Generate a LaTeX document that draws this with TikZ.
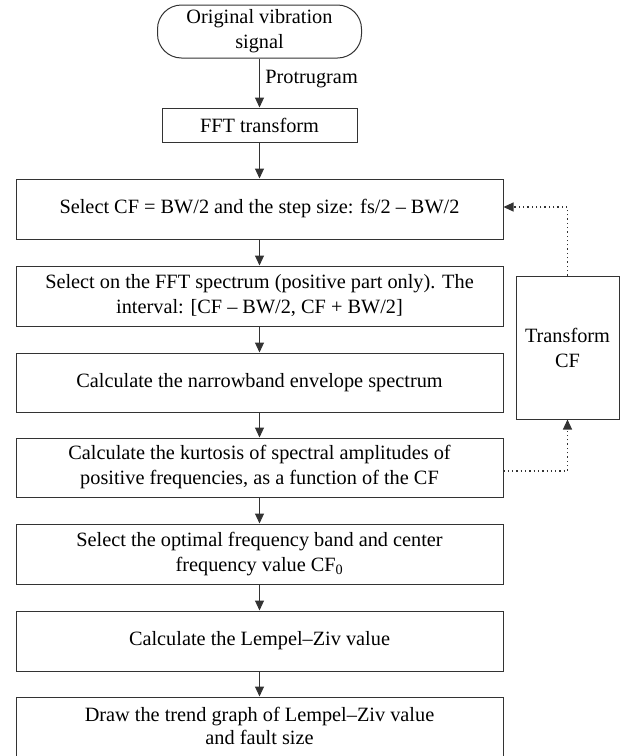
\documentclass[tikz,border=0pt]{standalone}
\usepackage{fontspec}
\setmainfont{Liberation Serif}
\usepackage{tikz}
\usetikzlibrary{arrows.meta,positioning}

\begin{document}
\begin{tikzpicture}[
    x=1pt, y=-1pt,
    font=\fontsize{20.3}{25}\selectfont,
    box/.style={rectangle, draw=black!80, line width=1pt, minimum width=487pt, minimum height=60pt, align=center, inner sep=2pt},
    arrow/.style={-{Triangle[length=10pt,width=9pt]}, line width=1pt, draw=black!80},
    loopline/.style={-{Triangle[length=10pt,width=9pt]}, line width=1.1pt, dash pattern=on 1.3pt off 3pt, draw=black!80}
]
    \useasboundingbox (0,0) rectangle (620,756);

    % Start and FFT
    \node[box, rounded corners=24pt, minimum width=204pt, minimum height=53pt] (signal) at (259.5,31.5) {Original vibration\\signal};
    \node[box, minimum width=195pt, minimum height=34pt] (fft) at (259.5,125) {FFT transform};

    % Main steps
    \node[box] (selcf) at (259.5,209) {\raisebox{4pt}{Select CF = BW/2 and the step size: fs/2 -- BW/2}};
    \node[box] (interval) at (259.5,296) {Select on the FFT spectrum (positive part only). The\\interval: [CF -- BW/2, CF + BW/2]};
    \node[box, minimum height=59pt] (envelope) at (259.5,382.5) {Calculate the narrowband envelope spectrum};
    \node[box, minimum height=59pt] (kurtosis) at (259.5,467.5) {Calculate the kurtosis of spectral amplitudes of\\positive frequencies, as a function of the CF};
    \node[box] (optimal) at (259.5,554) {Select the optimal frequency band and center\\frequency value CF\textsubscript{0}};
    \node[box] (lempel) at (259.5,641) {Calculate the Lempel--Ziv value};
    \node[box, minimum height=61pt] (trend) at (259.5,727.5) {\raisebox{3pt}{\shortstack{Draw the trend graph of Lempel--Ziv value\\[1pt]and fault size}}};

    % Side box
    \node[box, minimum width=103pt, minimum height=143pt] (transform) at (567.5,347.5) {Transform\\CF};

    % Arrows
    \draw[arrow] (signal) -- node[right, pos=0.42, xshift=2pt] {Protrugram} (fft);
    \draw[arrow] (fft) -- (selcf);
    \draw[arrow] (selcf) -- (interval);
    \draw[arrow] (interval) -- (envelope);
    \draw[arrow] (envelope) -- (kurtosis);
    \draw[arrow] (kurtosis) -- (optimal);
    \draw[arrow] (optimal) -- (lempel);
    \draw[arrow] (lempel) -- (trend);

    % Loop indication
    \draw[loopline] ([yshift=-3.5pt]kurtosis.east) -| (transform.south);
    \draw[loopline] (transform.north) |- ([yshift=2pt]selcf.east);

\end{tikzpicture}
\end{document}
